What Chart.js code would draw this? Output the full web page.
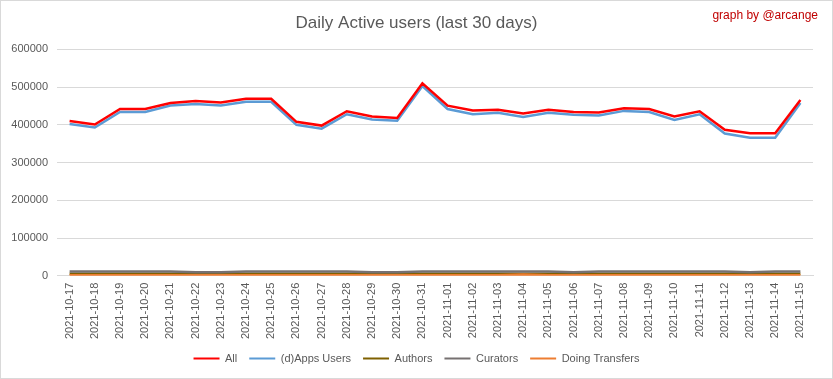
<!DOCTYPE html>
<html>
<head>
<meta charset="utf-8">
<script src="https://cdn.jsdelivr.net/npm/chart.js@4"></script>
<style>
html,body{margin:0;padding:0;background:#fff;}
#wrap{position:relative;width:833px;height:379px;box-sizing:border-box;border:1px solid #D9D9D9;}
#credit{position:absolute;right:14px;top:7px;font-family:"Liberation Sans",sans-serif;font-size:12px;color:#C00000;}
canvas{display:block;}
</style>
</head>
<body>
<div id="wrap">
<canvas id="c" width="831" height="377"></canvas>
<div id="credit">graph by @arcange</div>
</div>
<script>
const categories = ["2021-10-17","2021-10-18","2021-10-19","2021-10-20","2021-10-21","2021-10-22","2021-10-23","2021-10-24","2021-10-25","2021-10-26","2021-10-27","2021-10-28","2021-10-29","2021-10-30","2021-10-31","2021-11-01","2021-11-02","2021-11-03","2021-11-04","2021-11-05","2021-11-06","2021-11-07","2021-11-08","2021-11-09","2021-11-10","2021-11-11","2021-11-12","2021-11-13","2021-11-14","2021-11-15"];
const allUsers = [410000,401000,442000,442000,458000,463000,459000,469000,469000,408000,398000,436000,422000,418000,510000,451000,438000,440000,430000,440000,434000,433000,444000,442000,422000,436000,387000,378000,378000,466000];
const appsUsers = [402000,393000,434000,434000,451000,455000,451000,461000,461000,400000,390000,428000,414000,411000,503000,442000,428000,432000,421000,432000,427000,425000,437000,434000,413000,428000,377000,366000,366000,458000];
const authors = [5000,5000,5000,5000,5000,5000,5000,5000,5000,5000,5000,5000,5000,5000,5000,5000,5000,5000,5000,5000,5000,5000,5000,5000,5000,5000,5000,5000,5000,5000];
const curators = [11500,11500,11500,11500,11500,9500,9500,11500,11500,11500,11500,11500,9500,9500,11500,11500,11500,11500,11500,11500,9500,11500,11500,11500,11500,11500,11500,9500,11500,11500];
const transfers = [1500,1500,1500,1500,1500,1500,1500,1500,1500,1500,1500,1500,1500,1500,1500,1500,1500,1500,3000,1500,1500,1500,1500,1500,1500,1500,1500,1500,1500,1500];
const yTicks = [0,100000,200000,300000,400000,500000,600000];

const FONT = '"Liberation Sans",sans-serif';
const TXT = '#595959';
function ds(label, data, color, order){
  return {label, data, borderColor: color, backgroundColor: color, borderWidth: 2.5,
    pointRadius: 0, pointHoverRadius: 0, tension: 0, fill: false, order};
}
new Chart(document.getElementById('c'), {
  type: 'line',
  data: {
    labels: categories,
    datasets: [
      ds('All', allUsers, '#FF0000', 0),
      ds('(d)Apps Users', appsUsers, '#5B9BD5', 1),
      ds('Authors', authors, '#7F6000', 4),
      ds('Curators', curators, '#767171', 3),
      ds('Doing Transfers', transfers, '#ED7D31', 2)
    ]
  },
  options: {
    responsive: false,
    animation: false,
    layout: {padding: {left: 0, right: 0, top: 0, bottom: 4}},
    plugins: {
      title: {display: true, text: 'Daily Active users (last 30 days)', color: TXT,
        font: {family: FONT, size: 17, weight: 'normal'}, padding: {top: 12, bottom: 16}},
      legend: {position: 'bottom', labels: {color: TXT, font: {family: FONT, size: 11},
        boxWidth: 26, boxHeight: 2, padding: 12,
        sort: (a, b) => a.datasetIndex - b.datasetIndex,
        generateLabels: ch => Chart.defaults.plugins.legend.labels.generateLabels(ch).map(l => Object.assign(l, {lineWidth: 0}))}},
      tooltip: {enabled: false}
    },
    scales: {
      x: {
        offset: true,
        afterFit: s => { s.height -= 5; },
        grid: {display: false, drawTicks: false},
        border: {display: true, color: '#D9D9D9', width: 1},
        ticks: {color: TXT, font: {family: FONT, size: 11}, minRotation: 90, maxRotation: 90, autoSkip: false, padding: 7}
      },
      y: {
        min: 0, max: 600000,
        afterBuildTicks: s => { s.ticks = yTicks.map(v => ({value: v})); },
        afterFit: s => { s.width = 56; },
        grid: {color: '#D9D9D9', drawTicks: false},
        border: {display: false},
        ticks: {color: TXT, font: {family: FONT, size: 11}, padding: 9, callback: v => String(v)}
      },
      yRight: {
        position: 'right', min: 0, max: 1,
        afterFit: s => { s.width = 19; },
        grid: {display: false, drawTicks: false},
        border: {display: false},
        ticks: {display: false}
      }
    }
  }
});
</script>
</body>
</html>
